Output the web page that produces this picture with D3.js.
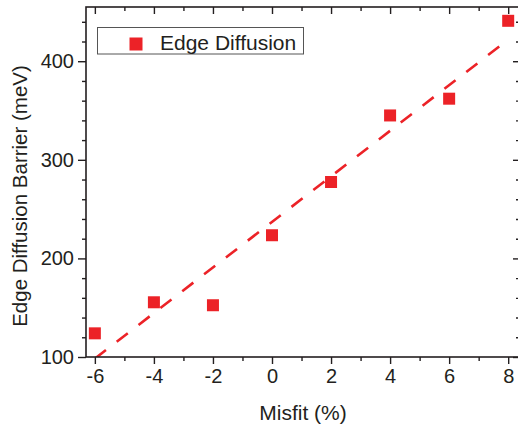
<!DOCTYPE html>
<html>
<head>
<meta charset="utf-8">
<script src="https://cdn.jsdelivr.net/npm/d3@7"></script>
<style>
  html, body { margin: 0; padding: 0; background: #fff; }
  svg { display: block; font-family: "Liberation Sans", Arial, Helvetica, sans-serif; }
</style>
</head>
<body>
<svg id="chart" width="518" height="426"></svg>
<script>
// Edge diffusion barrier versus lattice misfit
const misfit = [-6, -4, -2, 0, 2, 4, 6, 8];
const barrier = [124, 155.5, 152.5, 223.5, 277.5, 345, 362, 441];
const xTicks = [-6, -4, -2, 0, 2, 4, 6, 8];
const yTicks = [100, 200, 300, 400];
const seriesName = "Edge Diffusion";
const xTitle = "Misfit (%)";
const yTitle = "Edge Diffusion Barrier (meV)";

const red = "#ec2227";
const ink = "#231f20";

const svg = d3.select("#chart");
const plotL = 86, plotR = 520, plotT = 7, plotB = 357;

const x = d3.scaleLinear().domain([-6.3, 8.4]).range([plotL, plotR]);
const y = d3.scaleLinear().domain([100, 455]).range([plotB, plotT]);

const xMinor = d3.range(-6, 9, 1).filter(v => !xTicks.includes(v));
const yMinor = d3.range(100, 455, 20).filter(v => !yTicks.includes(v));

// least-squares fit of the barrier data
const mx = d3.mean(misfit), my = d3.mean(barrier);
const slope = d3.sum(misfit, (v, i) => (v - mx) * (barrier[i] - my)) / d3.sum(misfit, v => (v - mx) ** 2);
const icpt = my - slope * mx;
const fitX = [-6, 8];

svg.append("defs").append("clipPath").attr("id", "plot")
  .append("rect").attr("x", plotL).attr("y", plotT)
  .attr("width", plotR - plotL).attr("height", plotB - plotT);

svg.append("path")
  .attr("clip-path", "url(#plot)")
  .attr("d", d3.line()(fitX.map(v => [x(v), y(icpt + slope * v)])))
  .attr("fill", "none")
  .attr("stroke", red)
  .attr("stroke-width", 2.6)
  .attr("stroke-dasharray", "14,13.6");

// axes: outward ticks on bottom/left, inward mirror ticks on top/right
function styleAxis(g) {
  g.select(".domain").remove();
  g.selectAll("line").attr("stroke", ink).attr("stroke-width", 1.4);
  g.selectAll("text").attr("fill", ink).attr("font-family", null).style("font-size", "20px");
}

// plain hyphen-minus for negative labels
const fmt = d => String(d);

svg.append("g").attr("transform", `translate(0,${plotB})`)
  .call(d3.axisBottom(x).tickValues(xTicks).tickSize(7).tickPadding(5).tickFormat(fmt))
  .call(styleAxis);
svg.append("g").attr("transform", `translate(0,${plotB})`)
  .call(d3.axisBottom(x).tickValues(xMinor).tickSize(4).tickFormat(""))
  .call(styleAxis);

svg.append("g").attr("transform", `translate(${plotL},0)`)
  .call(d3.axisLeft(y).tickValues(yTicks).tickSize(8).tickPadding(4).tickFormat(fmt))
  .call(styleAxis);
svg.append("g").attr("transform", `translate(${plotL},0)`)
  .call(d3.axisLeft(y).tickValues(yMinor).tickSize(4).tickFormat(""))
  .call(styleAxis);

svg.append("g").attr("transform", `translate(0,${plotT})`)
  .call(d3.axisTop(x).tickValues(xTicks).tickSize(-7).tickFormat(""))
  .call(styleAxis);
svg.append("g").attr("transform", `translate(0,${plotT})`)
  .call(d3.axisTop(x).tickValues(xMinor).tickSize(-4).tickFormat(""))
  .call(styleAxis);

svg.append("g").attr("transform", `translate(${plotR},0)`)
  .call(d3.axisRight(y).tickValues(yTicks).tickSize(-7).tickFormat(""))
  .call(styleAxis);
svg.append("g").attr("transform", `translate(${plotR},0)`)
  .call(d3.axisRight(y).tickValues(yMinor).tickSize(-4).tickFormat(""))
  .call(styleAxis);

// frame
svg.append("rect")
  .attr("x", plotL).attr("y", plotT)
  .attr("width", plotR - plotL).attr("height", plotB - plotT)
  .attr("fill", "none").attr("stroke", ink).attr("stroke-width", 1.6);

// data markers
const size = 12;
svg.append("g").selectAll("rect").data(misfit).join("rect")
  .attr("x", d => x(d) - size / 2)
  .attr("y", (d, i) => y(barrier[i]) - size / 2)
  .attr("width", size).attr("height", size)
  .attr("fill", red);

// legend
const lg = svg.append("g");
lg.append("rect").attr("x", 97.5).attr("y", 27.5).attr("width", 206).attr("height", 26.5)
  .attr("fill", "#fff").attr("stroke", "#555").attr("stroke-width", 1);
lg.append("rect").attr("x", 129.5).attr("y", 37.5).attr("width", 13).attr("height", 13).attr("fill", red);
lg.append("text").attr("x", 160).attr("y", 50).attr("fill", ink)
  .style("font-size", "21px").text(seriesName);

// axis titles
svg.append("text")
  .attr("x", (plotL + plotR) / 2).attr("y", 420)
  .attr("text-anchor", "middle").attr("fill", ink)
  .style("font-size", "21px").text(xTitle);

svg.append("text")
  .attr("transform", "translate(27,196) rotate(-90)")
  .attr("text-anchor", "middle").attr("fill", ink)
  .style("font-size", "20.5px").text(yTitle);
</script>
</body>
</html>
